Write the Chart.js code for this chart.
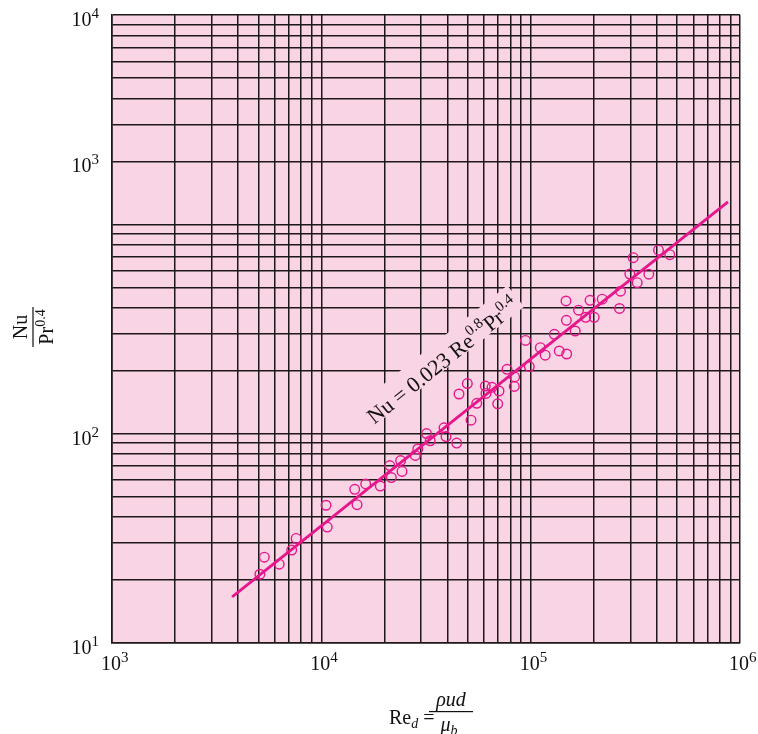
<!DOCTYPE html>
<html>
<head>
<meta charset="utf-8">
<style>
    html, body { margin: 0; padding: 0; background: #fff; }
</style>
</head>
<body>
<canvas id="grafico" width="758" height="734"></canvas>
<script src="https://cdn.jsdelivr.net/npm/chart.js@4.4.1/dist/chart.umd.min.js"></script>
<script>
const reynolds = [5090, 5340, 6290, 7220, 7580, 10530, 10670, 14440, 14810, 16290,
    19130, 21240, 21600, 23920, 24290, 28110, 28890, 31800, 33120, 38550,
    39410, 44320, 45460, 49820, 51880, 55290, 60730, 65360, 61200, 70600,
    69590, 77090, 83810, 83530, 94470, 98510, 111200, 117300, 129700, 136900,
    148600, 147500, 148100, 163200, 169300, 183200, 192100, 201200, 219700, 265700,
    268700, 297600, 308900, 322800, 366800, 408100, 462000];
const nusselt = [21.3, 25.7, 23.8, 27.8, 31.6, 45.5, 35.8, 54.2, 45.8, 57.5,
    56.2, 70.4, 61.7, 74.4, 66.0, 78.7, 84.5, 100.1, 92.5, 106.7,
    96.8, 90.2, 154.7, 173.6, 116.0, 139.7, 168.9, 166.5, 155.6, 159.9,
    138.9, 203.0, 186.7, 168.2, 279.0, 209.2, 257.5, 237.1, 298.3, 248.3,
    240.2, 430.4, 348.0, 309.3, 388.9, 359.6, 433.7, 359.6, 439.0, 396.3,
    479.1, 579.0, 692.7, 526.1, 577.8, 752.3, 716.1];

// Reta de correlação (extremos)
const retaRe = [3750, 876000];
const retaNu = [16.6, 1280];

// Posição do texto da equação
const anotacaoRe = 38100;
const anotacaoNu = 222;

// Rótulos dos eixos (10^n)
const xTickValores = [1e3, 1e4, 1e5, 1e6];
const xTickExpoentes = ['3', '4', '5', '6'];
const yTickValores = [10, 100, 2000, 10000];
const yTickExpoentes = ['1', '2', '3', '4'];

const corFundo = '#f9d4e5';
const corGrade = '#1c1819';
const corMagenta = '#e5178b';
const fonte = '"Liberation Serif", "Times New Roman", serif';

// Escreve uma sequência de pedaços de texto (com expoentes/índices)
function escrevePartes(ctx, partes, x, y, alinhamento) {
    let largura = 0;
    partes.forEach(p => {
        ctx.font = p.f;
        p.w = ctx.measureText(p.t).width;
        largura += p.w;
    });
    let cx = x;
    if (alinhamento === 'right') cx = x - largura;
    if (alinhamento === 'center') cx = x - largura / 2;
    partes.forEach(p => {
        ctx.font = p.f;
        ctx.fillText(p.t, cx, y + (p.dy || 0));
        cx += p.w;
    });
    return largura;
}

// Tira os ticks 1.5·10^n que o Chart.js gera na escala log
function tiraMeios(escala) {
    escala.ticks = escala.ticks.filter(t => {
        const m = t.value / Math.pow(10, Math.floor(Math.log10(t.value) + 1e-9));
        return Math.abs(m - 1.5) > 0.01;
    });
}

const desenhos = {
    id: 'desenhos',
    beforeDraw(chart) {
        const { ctx, chartArea: a } = chart;
        ctx.save();
        ctx.fillStyle = corFundo;
        ctx.fillRect(a.left, a.top, a.right - a.left, a.bottom - a.top);
        ctx.restore();
    },
    beforeDatasetsDraw(chart) {
        const { ctx } = chart;
        const sx = chart.scales.x, sy = chart.scales.y;
        const x1 = sx.getPixelForValue(retaRe[0]), y1 = sy.getPixelForValue(retaNu[0]);
        const x2 = sx.getPixelForValue(retaRe[1]), y2 = sy.getPixelForValue(retaNu[1]);
        const angulo = Math.atan2(y2 - y1, x2 - x1);
        const cx = sx.getPixelForValue(anotacaoRe), cy = sy.getPixelForValue(anotacaoNu);
        const partes = [
            { t: 'Nu = 0.023 Re', f: '22px ' + fonte },
            { t: '0.8', f: '15px ' + fonte, dy: -10 },
            { t: 'Pr', f: '22px ' + fonte },
            { t: '0.4', f: '15px ' + fonte, dy: -10 }
        ];
        ctx.save();
        ctx.translate(cx, cy);
        ctx.rotate(angulo);
        let largura = 0;
        partes.forEach(p => { ctx.font = p.f; largura += ctx.measureText(p.t).width; });
        ctx.fillStyle = corFundo;
        ctx.fillRect(-largura / 2 - 4, -19, largura + 8, 27);
        ctx.fillStyle = '#111';
        ctx.textAlign = 'left';
        ctx.textBaseline = 'alphabetic';
        escrevePartes(ctx, partes, 0, 7, 'center');
        ctx.restore();
    },
    afterDraw(chart) {
        const { ctx, chartArea: a } = chart;
        const sx = chart.scales.x, sy = chart.scales.y;
        ctx.save();
        ctx.fillStyle = '#111';
        ctx.textAlign = 'left';
        ctx.textBaseline = 'alphabetic';

        // rótulos do eixo x
        xTickValores.forEach((v, i) => {
            const px = sx.getPixelForValue(v);
            escrevePartes(ctx, [
                { t: '10', f: '20px ' + fonte },
                { t: xTickExpoentes[i], f: '15px ' + fonte, dy: -8 }
            ], px - 11, a.bottom + 27, 'left');
        });

        // rótulos do eixo y
        yTickValores.forEach((v, i) => {
            const py = sy.getPixelForValue(v);
            escrevePartes(ctx, [
                { t: '10', f: '20px ' + fonte },
                { t: yTickExpoentes[i], f: '15px ' + fonte, dy: -8 }
            ], a.left - 13, py + 11, 'right');
        });

        // título do eixo x: Re_d = ρud / μ_b
        escrevePartes(ctx, [
            { t: 'Re', f: '20px ' + fonte },
            { t: 'd', f: 'italic 14px ' + fonte, dy: 4 },
            { t: ' =', f: '20px ' + fonte }
        ], 389, 724, 'left');
        ctx.fillRect(429, 711, 44, 1.2);
        escrevePartes(ctx, [{ t: 'ρud', f: 'italic 20px ' + fonte }], 451, 706, 'center');
        escrevePartes(ctx, [
            { t: 'μ', f: 'italic 20px ' + fonte },
            { t: 'b', f: 'italic 14px ' + fonte, dy: 4 }
        ], 449, 731, 'center');

        // título do eixo y: Nu / Pr^0.4 (girado)
        ctx.translate(33, 327);
        ctx.rotate(-Math.PI / 2);
        ctx.fillRect(-20, -0.6, 40, 1.2);
        escrevePartes(ctx, [{ t: 'Nu', f: '20px ' + fonte }], 0, -6, 'center');
        escrevePartes(ctx, [
            { t: 'Pr', f: '20px ' + fonte },
            { t: '0.4', f: '14px ' + fonte, dy: -8 }
        ], 0, 20, 'center');
        ctx.restore();
    }
};

const eixo = (min, max) => ({
    type: 'logarithmic',
    min: min,
    max: max,
    afterBuildTicks: tiraMeios,
    grid: { color: corGrade, lineWidth: 1.5, drawTicks: false },
    border: { color: corGrade, width: 1.6 },
    ticks: { display: false, autoSkip: false }
});

new Chart(document.getElementById('grafico').getContext('2d'), {
    type: 'scatter',
    data: {
        datasets: [{
            label: 'Nu = 0.023 Re^0.8 Pr^0.4',
            data: retaRe.map((r, i) => ({ x: r, y: retaNu[i] })),
            showLine: true,
            borderColor: corMagenta,
            borderWidth: 2.8,
            pointRadius: 0
        }, {
            label: 'Dados',
            data: reynolds.map((r, i) => ({ x: r, y: nusselt[i] })),
            showLine: false,
            pointRadius: 4.8,
            pointBorderWidth: 1.4,
            pointBorderColor: corMagenta,
            pointBackgroundColor: 'rgba(0,0,0,0)'
        }]
    },
    options: {
        responsive: false,
        animation: false,
        layout: { padding: { left: 112, top: 15, right: 18, bottom: 91 } },
        plugins: {
            legend: { display: false },
            tooltip: { enabled: false }
        },
        scales: {
            x: eixo(1e3, 1e6),
            y: eixo(10, 1e4)
        }
    },
    plugins: [desenhos]
});
</script>
</body>
</html>
